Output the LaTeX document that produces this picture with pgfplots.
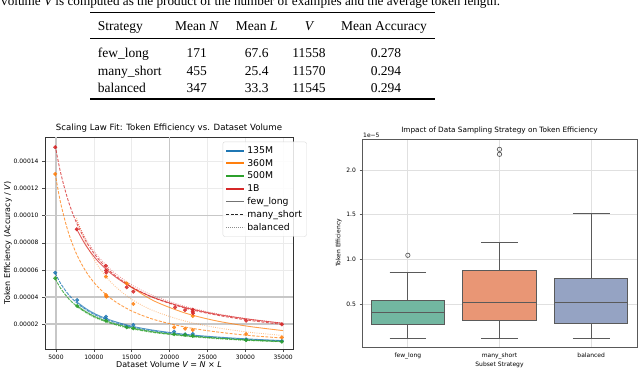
\documentclass[border=0pt]{standalone}
\usepackage{fontspec}
\setmainfont{Liberation Serif}
\newfontfamily\dv{DejaVu Sans}
\usepackage{pgfplots}
\pgfplotsset{compat=1.18}
\usepgfplotslibrary{statistics}

\definecolor{cA}{HTML}{1F77B4}% 135M
\definecolor{cB}{HTML}{FF7F0E}% 360M
\definecolor{cC}{HTML}{2CA02C}% 500M
\definecolor{cD}{HTML}{D62728}% 1B
\definecolor{bxg}{HTML}{72B7A1}
\definecolor{bxo}{HTML}{E99675}
\definecolor{bxb}{HTML}{95A3C3}
\definecolor{bxe}{HTML}{5A5A5A}

\tikzset{
  fl/.style={solid, line width=0.9pt, opacity=0.75},
  ms/.style={dash pattern=on 3pt off 1.5pt, line width=0.9pt, opacity=0.75},
  bl/.style={dash pattern=on 0.8pt off 1.4pt, line width=0.9pt, opacity=0.5},
  pt/.style={only marks, mark=*, mark size=1.8pt, opacity=0.85},
}

\begin{document}
\begin{tikzpicture}
\useasboundingbox (0pt,0pt) rectangle (640pt,-368pt);
\clip (0pt,0pt) rectangle (640pt,-368pt);

% ---- table above the plots
\begin{scope}[every node/.style={font=\fontsize{13.5}{16}\selectfont, inner sep=0pt}]
\node[anchor=base west, font=\fontsize{13.2}{16}\selectfont] at (1pt,-5pt) {volume {\itshape V} is computed as the product of the number of examples and the average token length.};
\draw[line width=1.2pt] (90pt,-12.3pt) -- (435pt,-12.3pt);
\draw[line width=0.7pt] (90pt,-38.3pt) -- (435pt,-38.3pt);
\draw[line width=1.2pt] (90pt,-99pt) -- (435pt,-99pt);
\node[anchor=base west] at (97.7pt,-30pt) {Strategy};
\node[anchor=base] at (196.7pt,-30pt) {Mean {\itshape N}};
\node[anchor=base] at (256.7pt,-30pt) {Mean {\itshape L}};
\node[anchor=base] at (309pt,-30pt) {{\itshape V}};
\node[anchor=base] at (384pt,-30pt) {Mean Accuracy};
\node[anchor=base west] at (97.7pt,-57.8pt) {few\_long};
\node[anchor=base west] at (97.7pt,-75pt) {many\_short};
\node[anchor=base west] at (97.7pt,-92.3pt) {balanced};
\node[anchor=base] at (196.7pt,-57.8pt) {171};
\node[anchor=base] at (196.7pt,-75pt) {455};
\node[anchor=base] at (196.7pt,-92.3pt) {347};
\node[anchor=base] at (256.7pt,-57.8pt) {67.6};
\node[anchor=base] at (256.7pt,-75pt) {25.4};
\node[anchor=base] at (256.7pt,-92.3pt) {33.3};
\node[anchor=base] at (309pt,-57.8pt) {11558};
\node[anchor=base] at (309pt,-75pt) {11570};
\node[anchor=base] at (309pt,-92.3pt) {11545};
\node[anchor=base] at (386pt,-57.8pt) {0.278};
\node[anchor=base] at (386pt,-75pt) {0.294};
\node[anchor=base] at (386pt,-92.3pt) {0.294};
\end{scope}

% ---- left: scaling law fit
\begin{axis}[
  at={(45pt,-349pt)}, anchor=south west,
  width=248pt, height=212pt, scale only axis,
  xmin=3550, xmax=36300, ymin=1.5, ymax=158.2,
  scaled x ticks=false, scaled y ticks=false,
  xtick={5000,10000,15000,20000,25000,30000,35000},
  xticklabels={5000,10000,15000,20000,25000,30000,35000},
  ytick={20,40,60,80,100,120,140},
  yticklabels={0.00002,0.00004,0.00006,0.00008,0.00010,0.00012,0.00014},
  tick label style={font=\dv\fontsize{6}{7}\selectfont},
  label style={font=\dv\fontsize{8}{9}\selectfont},
  title style={font=\dv\fontsize{8.6}{10}\selectfont, yshift=-5pt},
  title={Scaling Law Fit: Token Efficiency vs. Dataset Volume},
  xlabel={Dataset Volume {\itshape V} = {\itshape N} × {\itshape L}},
  ylabel={Token Efficiency (Accuracy / {\itshape V})},
  xlabel style={yshift=9pt}, ylabel style={yshift=-8pt},
  grid=major, major grid style={color=black!8, line width=0.6pt},
  extra x ticks={5000,20000}, extra x tick labels={},
  extra y ticks={20,40,100}, extra y tick labels={},
  extra tick style={major grid style={color=black!22, line width=1.3pt}, major tick length=0pt},
  axis line style={color=black!80, line width=0.9pt},
  tick align=outside, major tick length=3pt,
  tick style={color=black!70, line width=0.6pt},
  xtick pos=bottom, ytick pos=left,
  legend style={at={(0.7165,0.978)}, anchor=north west, draw=black!15,
    rounded corners=2pt, fill=white, fill opacity=0.85, text opacity=1,
    font=\dv\fontsize{9.3}{10}\selectfont, row sep=0.4pt, inner sep=2.5pt},
  legend image code/.code={\draw[#1] (0pt,0pt) -- (18pt,0pt);},
  legend cell align=left,
]
% fitted curves, 135M
\addplot[cA, ms, smooth, forget plot] coordinates {(4900,57.6) (5600,50.1) (6600,42.2) (7700,35.9) (9000,30.5) (10500,25.9) (12500,21.6) (15000,17.9) (18000,14.8) (22000,12.0) (26000,10.0) (30500,8.5) (35000,7.4)};
\addplot[cA, fl, smooth, forget plot] coordinates {(7700,36.6) (9000,31.2) (10500,26.6) (12500,22.3) (15000,18.4) (18000,15.3) (22000,12.4) (26000,10.5) (30500,8.9) (35000,7.7)};
\addplot[cA, bl, smooth, forget plot] coordinates {(4900,57.5) (5600,49.9) (6600,41.9) (7700,35.6) (9000,30.2) (10500,25.6) (12500,21.3) (15000,17.6) (18000,14.5) (22000,11.7) (26000,9.8) (30500,8.3) (35000,7.2)};
% 500M
\addplot[cC, ms, smooth, forget plot] coordinates {(4900,53.5) (5600,46.5) (6600,39.2) (7700,33.4) (9000,28.4) (10500,24.1) (12500,20.1) (15000,16.6) (18000,13.7) (22000,11.2) (26000,9.4) (30500,7.9) (35000,6.9)};
\addplot[cC, fl, smooth, forget plot] coordinates {(7700,33.9) (9000,28.9) (10500,24.6) (12500,20.6) (15000,17.1) (18000,14.1) (22000,11.5) (26000,9.7) (30500,8.2) (35000,7.1)};
\addplot[cC, bl, smooth, forget plot] coordinates {(4900,53.5) (5600,46.4) (6600,39.0) (7700,33.1) (9000,28.1) (10500,23.8) (12500,19.8) (15000,16.3) (18000,13.5) (22000,10.9) (26000,9.1) (30500,7.7) (35000,6.7)};
% 360M
\addplot[cB, ms, smooth, forget plot] coordinates {(4900,131.2) (5600,109.8) (6600,88.3) (7700,71.9) (9000,58.4) (10500,47.6) (12500,37.8) (15000,29.6) (18000,23.2) (22000,17.8) (26000,14.3) (30500,11.5) (35000,9.6)};
\addplot[cB, bl, smooth, forget plot] coordinates {(7700,98.4) (9000,78.9) (10500,63.4) (12500,49.5) (15000,38.2) (18000,29.5) (22000,22.2) (26000,17.5) (30500,13.9) (35000,11.5)};
\addplot[cB, fl, smooth, forget plot] coordinates {(14000,51.7) (15000,47.1) (18000,36.9) (22000,28.2) (26000,22.5) (30500,18.2) (35000,15.1)};
% 1B
\addplot[cD, ms, smooth, forget plot] coordinates {(4900,151.8) (5600,132.1) (6600,111.4) (7700,94.9) (9000,80.7) (10500,68.7) (12500,57.3) (15000,47.4) (18000,39.2) (22000,31.8) (26000,26.8) (30500,22.7) (35000,19.6)};
\addplot[cD, fl, smooth, forget plot] coordinates {(7700,90.4) (9000,77.6) (10500,66.7) (12500,56.3) (15000,47.0) (18000,39.3) (22000,32.3) (26000,27.4) (30500,23.5) (35000,20.5)};
\addplot[cD, bl, smooth, forget plot] coordinates {(7700,96.6) (9000,82.4) (10500,70.4) (12500,58.9) (15000,48.9) (18000,40.6) (22000,33.1) (26000,27.9) (30500,23.7) (35000,20.6)};
% measured points
\addplot[cA, pt, forget plot] coordinates {(4900,57.9) (7800,37.7) (11600,25.4) (11600,24.0) (14340,18.0) (15220,19.3) (20600,14.3) (22050,12.4) (23060,12.6) (30110,8.6) (34830,7.4)};
\addplot[cC, pt, forget plot] coordinates {(4900,53.8) (7800,33.3) (11600,22.4) (14340,17.5) (15220,16.8) (20600,12.4) (22050,12.0) (23060,11.1) (30110,8.1) (34830,6.9)};
\addplot[cB, pt, forget plot] coordinates {(4900,130.9) (11600,55.0) (11600,41.4) (11650,40.2) (14340,50.0) (15220,34.8) (20600,17.5) (22050,16.5) (23060,15.6) (23060,25.9) (30110,12.6) (34830,10.1)};
\addplot[cD, pt, forget plot] coordinates {(4900,150.6) (7750,90.0) (11600,63.0) (11600,59.5) (11650,58.0) (14340,47.1) (15220,43.9) (20730,32.3) (22050,30.3) (23060,30.5) (23060,29.0) (23100,28.0) (30110,22.4) (34830,19.7)};
% legend
\addlegendimage{cA, line width=1.9pt}\addlegendentry{135M}
\addlegendimage{cB, line width=1.9pt}\addlegendentry{360M}
\addlegendimage{cC, line width=1.9pt}\addlegendentry{500M}
\addlegendimage{cD, line width=1.9pt}\addlegendentry{1B}
\addlegendimage{black!55, line width=1.4pt}\addlegendentry{few\_long}
\addlegendimage{black!85, line width=1pt, dash pattern=on 3pt off 1.5pt}\addlegendentry{many\_short}
\addlegendimage{black!45, line width=1pt, dash pattern=on 0.8pt off 1.2pt}\addlegendentry{balanced}
\end{axis}

% ---- right: box plot
\begin{axis}[
  at={(362pt,-347pt)}, anchor=south west,
  width=275pt, height=208pt, scale only axis, clip=false,
  xmin=-0.5, xmax=2.5, ymin=0.019, ymax=2.346,
  xtick={0,1,2}, xticklabels={few\_long,many\_short,balanced},
  ytick={0.5,1.0,1.5,2.0}, yticklabels={0.5,1.0,1.5,2.0},
  tick label style={font=\dv\fontsize{6}{7}\selectfont},
  label style={font=\dv\fontsize{6}{7}\selectfont},
  title style={font=\dv\fontsize{7.3}{8}\selectfont, yshift=-5pt},
  title={Impact of Data Sampling Strategy on Token Efficiency},
  xlabel={Subset Strategy}, ylabel={Token Efficiency},
  xlabel style={yshift=4pt}, ylabel style={yshift=-2pt},
  grid=major, major grid style={color=black!12, line width=0.7pt},
  axis line style={color=black!65, line width=1pt},
  tick align=outside, major tick length=2.5pt,
  tick style={color=black!65, line width=0.6pt},
  xtick pos=bottom, ytick pos=left, xtick style={draw=none},
  boxplot/draw direction=y,
]
\addplot[boxplot prepared={draw position=0, median=0.40, lower quartile=0.27,
    upper quartile=0.537, lower whisker=0.116, upper whisker=0.858,
    box extend=0.8, whisker extend=0.4},
  fill=bxg, draw=bxe, line width=1pt, mark=o, mark size=2.2pt,
  mark options={draw=bxe, line width=0.7pt}] coordinates {(0,1.045)};
\addplot[boxplot prepared={draw position=1, median=0.52, lower quartile=0.31,
    upper quartile=0.873, lower whisker=0.116, upper whisker=1.186,
    box extend=0.8, whisker extend=0.4},
  fill=bxo, draw=bxe, line width=1pt, mark=o, mark size=2.2pt,
  mark options={draw=bxe, line width=0.7pt}] coordinates {(1,2.23) (1,2.175)};
\addplot[boxplot prepared={draw position=2, median=0.52, lower quartile=0.284,
    upper quartile=0.787, lower whisker=0.116, upper whisker=1.515,
    box extend=0.8, whisker extend=0.4},
  fill=bxb, draw=bxe, line width=1pt] coordinates {};
\node[font=\dv\fontsize{6}{7}\selectfont, anchor=south west, inner sep=1pt]
  at (rel axis cs:0,1) {1e\textminus5};
\end{axis}
\end{tikzpicture}
\end{document}
